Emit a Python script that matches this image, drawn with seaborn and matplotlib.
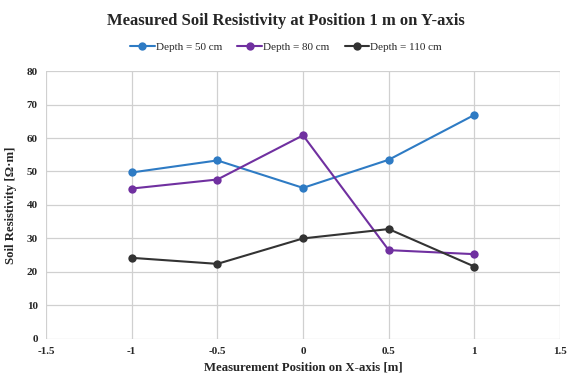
import matplotlib
matplotlib.use("Agg")
import matplotlib.pyplot as plt
import seaborn as sns
import pandas as pd

positions = [-1, -0.5, 0, 0.5, 1]
depth_50 = [49.7, 53.3, 45.1, 53.5, 66.9]
depth_80 = [44.9, 47.6, 60.8, 26.5, 25.3]
depth_110 = [24.2, 22.4, 30.0, 32.8, 21.6]
series_names = ["Depth = 50 cm", "Depth = 80 cm", "Depth = 110 cm"]
colors = ["#2E7BC4", "#7030A0", "#333333"]

x_ticks = [-1.5, -1, -0.5, 0, 0.5, 1, 1.5]
x_tick_labels = ["-1.5", "-1", "-0.5", "0", "0.5", "1", "1.5"]
y_ticks = [0, 10, 20, 30, 40, 50, 60, 70, 80]

df = pd.DataFrame({
    "x": positions * 3,
    "y": depth_50 + depth_80 + depth_110,
    "series": [series_names[0]] * 5 + [series_names[1]] * 5 + [series_names[2]] * 5,
})

sns.set_style("white")
plt.rcParams["font.family"] = ["Liberation Serif", "DejaVu Serif"]

fig = plt.figure(figsize=(5.68, 3.74), dpi=100)
ax = fig.add_axes([0.081, 0.094, 0.905, 0.716])

sns.lineplot(data=df, x="x", y="y", hue="series", hue_order=series_names,
             palette=colors, marker="o", markersize=6, markeredgewidth=0,
             linewidth=1.5, ax=ax, legend=True, sort=False)

ax.set_xlim(-1.5, 1.5)
ax.set_ylim(0, 80)
ax.set_xticks(x_ticks)
ax.set_xticklabels(x_tick_labels)
ax.set_yticks(y_ticks)
ax.grid(True, color="#d0d0d0", linewidth=0.9)
for s in ax.spines.values():
    s.set_visible(False)
ax.tick_params(axis="both", length=0, labelsize=8, pad=6)
for lab in ax.get_xticklabels() + ax.get_yticklabels():
    lab.set_fontweight("bold")

ax.set_xlabel("Measurement Position on X-axis [m]", fontsize=9.2, fontweight="bold", labelpad=4)
ax.set_ylabel("Soil Resistivity [Ω·m]", fontsize=9.2, fontweight="bold", labelpad=7)

fig.suptitle("Measured Soil Resistivity at Position 1 m on Y-axis",
             fontsize=12, fontweight="bold", x=0.503, y=0.965)

handles, labels = ax.get_legend_handles_labels()
ax.legend(handles, labels, loc="center", bbox_to_anchor=(0.467, 1.09), ncol=3,
          frameon=False, fontsize=8, handlelength=2.2, handletextpad=0.1,
          columnspacing=1.4)

fig.savefig("out.png", dpi=100)
